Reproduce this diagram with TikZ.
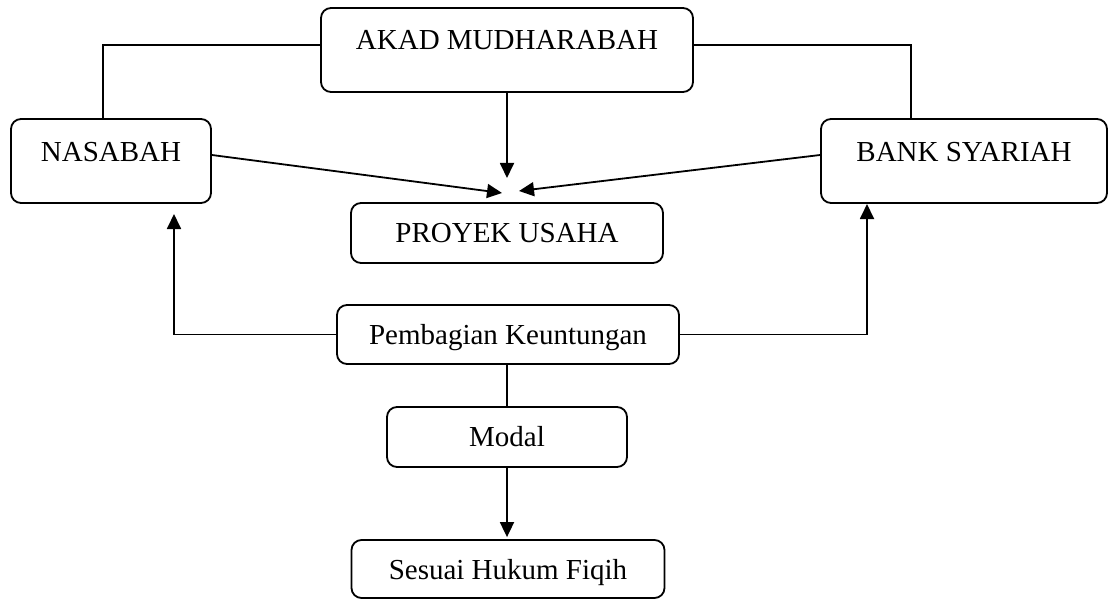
\documentclass[tikz,border=0pt]{standalone}
\usepackage{fontspec}
\setmainfont{Liberation Serif}
\usetikzlibrary{arrows.meta}
\begin{document}
\begin{tikzpicture}[x=1pt,y=-1pt,
  box/.style={draw,line width=1.8pt,rounded corners=10pt,inner sep=0pt,
    font=\fontsize{29}{34}\selectfont,align=center},
  highbox/.style={box,text height=42pt,text depth=42pt},
  midbox/.style={box,text height=#1/2+9.5pt,text depth=#1/2-9.5pt},
  link/.style={line width=1.8pt},
  arr/.style={link,-{Triangle[length=15pt,width=14pt]}}]
\useasboundingbox (0,0) rectangle (1109,599);
\node[highbox,minimum width=372pt] (akad) at (507,50) {AKAD MUDHARABAH};
\node[highbox,minimum width=200pt] (nas) at (111,161) {NASABAH};
\node[highbox,minimum width=286pt] (bank) at (964,161) {BANK SYARIAH};
\node[box,minimum width=312pt,text height=39.5pt,text depth=20.5pt] (proyek) at (507,233) {PROYEK USAHA};
\node[box,minimum width=342pt,text height=39pt,text depth=20pt] (bagi) at (508,334.5) {Pembagian Keuntungan};
\node[box,minimum width=240pt,text height=39.5pt,text depth=20.5pt] (modal) at (507,437) {Modal};
\node[box,minimum width=313pt,text height=39pt,text depth=19pt] (fiqih) at (508,569) {Sesuai Hukum Fiqih};
\coordinate (L1) at (103,45);
\coordinate (R1) at (911,45);
\coordinate (tipA) at (507,178);
\coordinate (tipL) at (502,193);
\coordinate (tipR) at (519,191);
\coordinate (sL) at (0,155);
\coordinate (tipN) at (174,214);
\coordinate (tipB) at (867,204);
\draw[link] (akad.west |- L1) -| (nas.north -| L1);
\draw[link] (akad.east |- R1) -| (bank.north -| R1);
\draw[arr] (akad.south) -- (tipA);
\draw[arr] (nas.east |- sL) -- (tipL);
\draw[arr] (bank.west |- sL) -- (tipR);
\draw[arr] (bagi.west) -| (tipN);
\draw[arr] (bagi.east) -| (tipB);
\draw[link] (modal.north |- bagi.south) -- (modal.north);
\draw[arr] (modal.south) -- ([yshift=2pt]fiqih.north -| modal.south);
\end{tikzpicture}
\end{document}
